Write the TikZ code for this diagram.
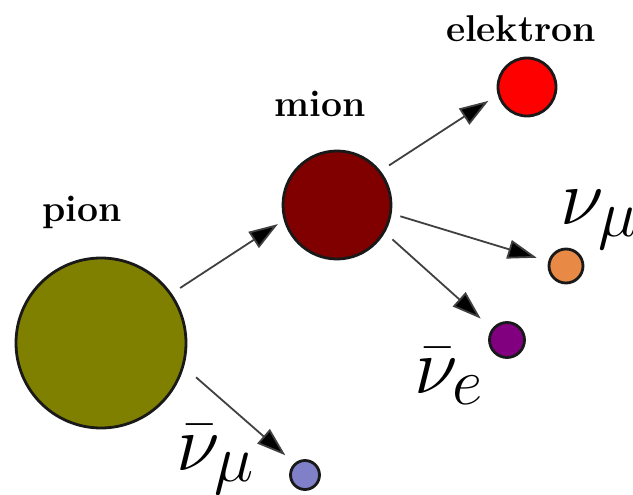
\documentclass[tikz,border=0pt]{standalone}
\usepackage{graphicx}
\usetikzlibrary{arrows.meta}
\definecolor{pioncol}{RGB}{128,128,0}
\definecolor{mioncol}{RGB}{128,0,0}
\definecolor{eleccol}{RGB}{255,0,0}
\definecolor{numucol}{RGB}{232,138,70}
\definecolor{nuecol}{RGB}{128,0,128}
\definecolor{nubcol}{RGB}{128,128,200}
\newcommand{\bigname}[1]{\scalebox{1.5}{\Huge\bfseries #1}}
\newcommand{\bigmath}[1]{\scalebox{3.2}{\Huge $#1$}}
\tikzset{
  particle/.style={circle, draw=black!90, line width=2.8pt, inner sep=0pt},
  plabel/.style={inner sep=0pt, anchor=base},
  mlab/.style={inner sep=0pt, anchor=base west},
  arr/.style={draw=black!75, line width=1.8pt, -{Triangle[length=29pt,width=19pt,fill=black]}}
}
\begin{document}
\begin{tikzpicture}[x=1pt,y=-1pt]
\useasboundingbox (0,0) rectangle (633,495);
\node[particle, fill=pioncol, minimum size=170pt] (pion) at (101,343) {};
\node[particle, fill=mioncol, minimum size=108pt] (mion) at (337,205) {};
\node[particle, fill=eleccol, minimum size=58pt] (elec) at (527,87) {};
\node[particle, fill=numucol, minimum size=34pt] (numu) at (566,266) {};
\node[particle, fill=nuecol, minimum size=35pt] (nue) at (507,340) {};
\node[particle, fill=nubcol, minimum size=29pt] (nubmu) at (305,475) {};

\node[plabel] (tpion) at (82,222) {\bigname{pion}};
\node[plabel] (tmion) at (320,117) {\bigname{mion}};
\node[plabel] (telec) at (521,42) {\bigname{elektron}};

\node[mlab] (lnumu) at (560,225) {\bigmath{\nu_\mu}};
\node[mlab] (lnue) at (414,393) {\bigmath{\bar\nu_e}};
\node[mlab] (lnubmu) at (176,470) {\bigmath{\bar\nu_\mu}};

\draw[arr, shorten <=10pt, shorten >=7pt] (pion.35) -- (mion.196);
\draw[arr, shorten <=16pt, shorten >=12pt] (pion.-16) -- (nubmu.132);
\draw[arr, shorten <=10pt, shorten >=11pt] (mion.38) -- (elec.195);
\draw[arr, shorten <=9pt, shorten >=12pt] (mion.-9) -- (numu.165);
\draw[arr, shorten <=10pt, shorten >=15pt] (mion.-30) -- (nue.143);
\end{tikzpicture}
\end{document}
